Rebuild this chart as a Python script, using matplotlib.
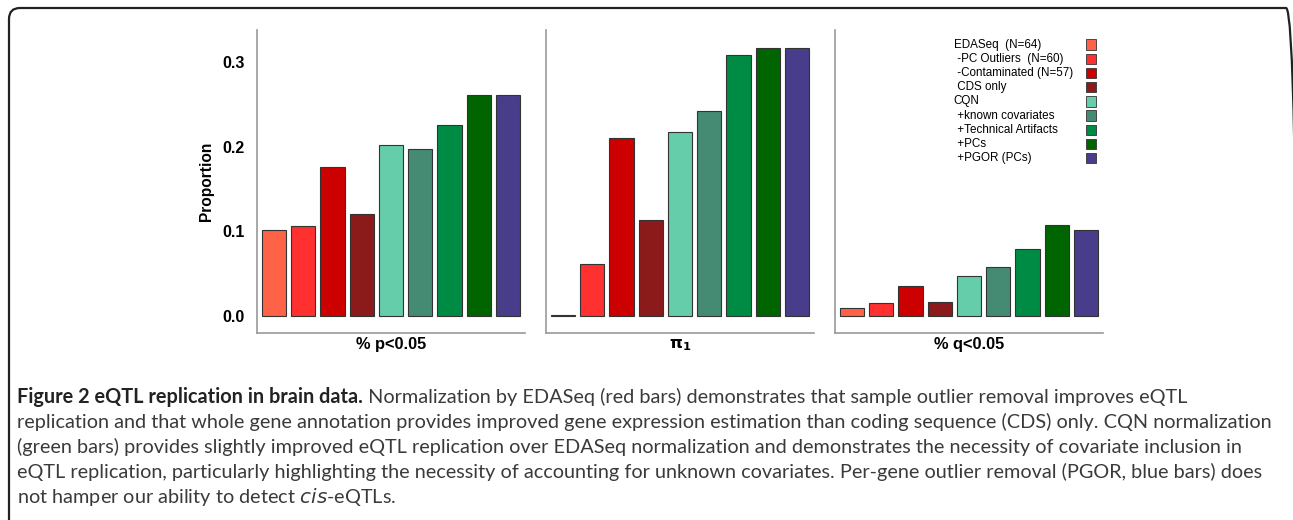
import numpy as np
import matplotlib
matplotlib.use('Agg')
import matplotlib.pyplot as plt
from matplotlib.patches import Rectangle, FancyBboxPatch
from matplotlib.transforms import IdentityTransform

#Data
groups = ['EDASeq  (N=64)', ' -PC Outliers  (N=60)', ' -Contaminated (N=57)', ' CDS only',
          'CQN', ' +known covariates', ' +Technical Artifacts', ' +PCs', ' +PGOR (PCs)']
colors = ['#FF6347', '#FF3030', '#CD0000', '#8B1A1A', '#66CDAA',
          '#458B74', '#008B45', '#006400', '#483D8B']
p_05 = [0.102, 0.107, 0.176, 0.121, 0.202, 0.197, 0.226, 0.261, 0.261]
pi_1 = [0.001, 0.061, 0.210, 0.114, 0.218, 0.242, 0.308, 0.317, 0.317]
q_05 = [0.010, 0.015, 0.035, 0.017, 0.047, 0.058, 0.079, 0.108, 0.102]
panel_labels = ['% p<0.05', r'$\mathbf{\pi_1}$', '% q<0.05']
yticks = [0.0, 0.1, 0.2, 0.3]

W, H = 1293, 520
fig = plt.figure(figsize=(W / 100, H / 100), dpi=100)

#Rounded frame around the whole figure (in pixels, cut at right and bottom)
frame = FancyBboxPatch((9, -30), 1288, H - 8 + 30,
                       boxstyle='round,pad=0,rounding_size=11',
                       transform=IdentityTransform(), fill=False,
                       edgecolor='#222222', linewidth=1.6, clip_on=False)
fig.patches.append(frame)

lefts = [257, 546, 835]
x = np.arange(len(groups))
for i, vals in enumerate([p_05, pi_1, q_05]):
    ax = fig.add_axes([lefts[i] / W, 1 - 333 / H, 268 / W, 303 / H])
    ax.bar(x, vals, width=0.83, color=colors, edgecolor='#333333', linewidth=0.8)
    ax.set_xlim(-0.575, 8.575)
    ax.set_ylim(-0.02, 0.338)
    for s in ['top', 'right']:
        ax.spines[s].set_visible(False)
    for s in ['left', 'bottom']:
        ax.spines[s].set_color('#999999')
        ax.spines[s].set_linewidth(1.2)
    ax.set_xticks([])
    ax.set_xlabel(panel_labels[i], fontsize=11.8, fontweight='bold',
                  family='Liberation Sans', labelpad=3)
    if i == 0:
        ax.set_yticks(yticks)
        ax.set_yticklabels(['%.1f' % t for t in yticks], fontsize=11.5,
                           fontweight='bold', family='Liberation Sans')
        ax.tick_params(axis='y', length=0, pad=9)
        ax.set_ylabel('Proportion', fontsize=11.2, fontweight='bold',
                      family='Liberation Sans', labelpad=6)
    else:
        ax.set_yticks([])
    if i == 2:
        #Legend drawn by hand: labels left, colour boxes in one column on the right
        for j, (lab, c) in enumerate(zip(groups, colors)):
            yy = 0.952 - j * 0.0469
            ax.text(0.443, yy, lab, transform=ax.transAxes, fontsize=8.4,
                    family='Liberation Sans', va='center', ha='left')
            ax.add_patch(Rectangle((0.937, yy - 0.017), 0.037, 0.034,
                                   transform=ax.transAxes, facecolor=c,
                                   edgecolor='#333333', linewidth=0.6, clip_on=False))

#Caption
cap_font = 'Lato'
fs = 14.3
cap_col = '#3a3a3a'
line_y = [397, 422, 447, 472, 497]
t0 = fig.text(17 / W, 1 - line_y[0] / H, 'Figure 2 eQTL replication in brain data.',
              fontsize=fs, fontweight='bold', family=cap_font, va='center', color='#222222')
fig.canvas.draw()
bb = t0.get_window_extent()
fig.text(bb.x1 / W, 1 - line_y[0] / H,
         ' Normalization by EDASeq (red bars) demonstrates that sample outlier removal improves eQTL',
         fontsize=fs, family=cap_font, va='center', color=cap_col)
lines = ['replication and that whole gene annotation provides improved gene expression estimation than coding sequence (CDS) only. CQN normalization',
         '(green bars) provides slightly improved eQTL replication over EDASeq normalization and demonstrates the necessity of covariate inclusion in',
         'eQTL replication, particularly highlighting the necessity of accounting for unknown covariates. Per-gene outlier removal (PGOR, blue bars) does']
for k, ln in enumerate(lines):
    fig.text(17 / W, 1 - line_y[k + 1] / H, ln, fontsize=fs, family=cap_font,
             va='center', color=cap_col)
fig.text(17 / W, 1 - line_y[4] / H, 'not hamper our ability to detect $\\it{cis}$-eQTLs.',
         fontsize=fs, family=cap_font, va='center', color=cap_col)

fig.savefig('out.png', dpi=100)
